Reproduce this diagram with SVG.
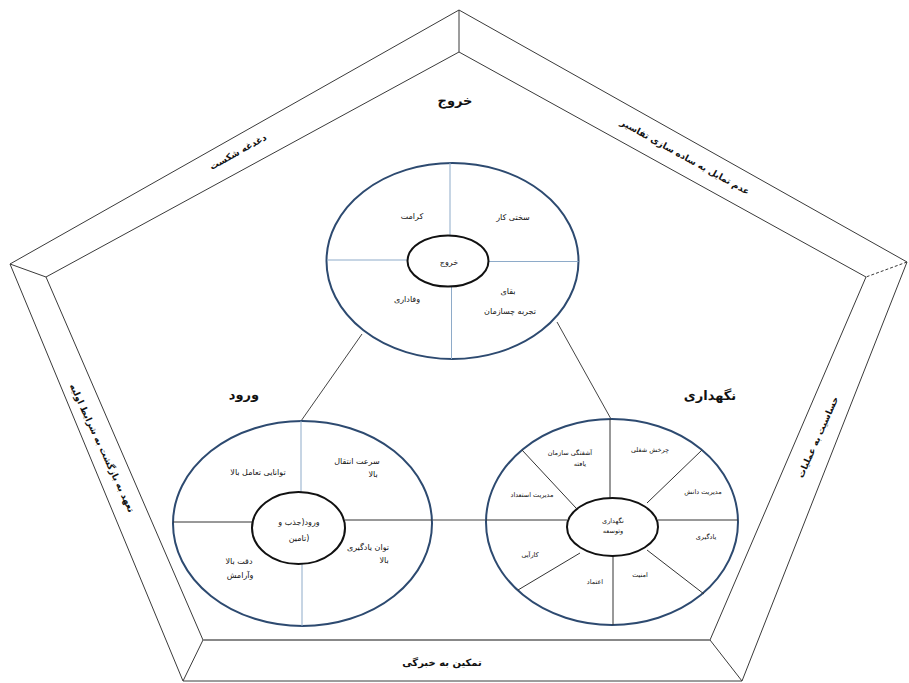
<svg xmlns="http://www.w3.org/2000/svg" width="909" height="683" viewBox="0 0 909 683">
<style>
.pl{fill:none;stroke:#3a3a3a;stroke-width:1}
.oe{fill:#fff;stroke:#2d4a70;stroke-width:2}
.ie{fill:#fff;stroke:#111;stroke-width:2}
.dl{stroke:#8eabc9;stroke-width:1}
.dk{stroke:#333;stroke-width:1}
.cn{stroke:#444;stroke-width:1;fill:none}
text{font-family:"DejaVu Sans",sans-serif;fill:#111;text-anchor:middle}
.t{font-size:8px}
.s{font-size:6.5px}
.h{font-size:13px;font-weight:bold}
.e{font-size:9px;font-weight:bold}
</style>
<rect width="909" height="683" fill="#fff"/>
<g id="frame">
<polygon class="pl" points="459,10 907,262 742,681 183,681 10,264"/>
<polygon class="pl" points="459,52 866,277 710,640 203,640 46,277"/>
<line class="pl" x1="459" y1="10" x2="459" y2="52"/>
<line class="pl" x1="907" y1="262" x2="866" y2="277" stroke-dasharray="3,2"/>
<line class="pl" x1="742" y1="681" x2="710" y2="640"/>
<line class="pl" x1="183" y1="681" x2="203" y2="640"/>
<line class="pl" x1="10" y1="264" x2="46" y2="277"/>
<line x1="203" y1="640" x2="710" y2="640" stroke="#888" stroke-width="2"/>
<text class="e" transform="translate(238,152) rotate(-29)" y="3">دغدغه شکست</text>
<text class="e" transform="translate(685,157) rotate(29)" y="3">عدم تمایل به ساده سازی تفاسیر</text>
<text class="e" transform="translate(102,448) rotate(65)" y="3">تعهد به بازگشت به شرایط اولیه</text>
<text class="e" transform="translate(818,437) rotate(-66)" y="3">حساسیت به عملیات</text>
<text class="e" x="442" y="666" style="font-size:10px">تمکین به خبرگی</text>
</g>
<g id="connectors">
<line class="cn" x1="362" y1="334" x2="301" y2="421"/>
<line class="cn" x1="557" y1="322" x2="611" y2="419"/>
<line class="cn" x1="432" y1="520" x2="486" y2="520"/>
</g>
<g id="exit">
<text class="h" x="455" y="105">خروج</text>
<ellipse class="oe" cx="452.5" cy="261" rx="126" ry="98"/>
<line class="dl" x1="450" y1="163" x2="450" y2="236"/>
<line class="dl" x1="451.5" y1="286" x2="451.5" y2="359"/>
<line class="dl" x1="327" y1="260" x2="408" y2="260"/>
<line class="dl" x1="488" y1="261.5" x2="578.5" y2="261.5"/>
<ellipse class="ie" cx="448" cy="261" rx="40.5" ry="25.5"/>
<text class="t" x="449" y="265">خروج</text>
<text class="t" x="412" y="219">کرامت</text>
<text class="t" x="513" y="220">سختی کار</text>
<text class="t" x="407" y="302">وفاداری</text>
<text class="t" x="508" y="294">بقای</text>
<text class="t" x="510" y="314">تجربه چسازمان</text>
</g>
<g id="entry">
<text class="h" x="244" y="399">ورود</text>
<ellipse class="oe" cx="302.5" cy="523.5" rx="129.5" ry="102.5"/>
<line class="dl" x1="301" y1="421" x2="301" y2="492"/>
<line class="dl" x1="302" y1="564" x2="302" y2="626"/>
<line class="dk" x1="173" y1="522" x2="252" y2="522"/>
<line class="dk" x1="345" y1="520" x2="432" y2="520"/>
<ellipse class="ie" cx="298.5" cy="528" rx="46.5" ry="36"/>
<text class="t" x="299" y="525">ورود(جذب و</text>
<text class="t" x="299" y="541">تامین)</text>
<text class="t" x="357" y="464">سرعت انتقال</text>
<text class="t" x="373" y="477">بالا</text>
<text class="t" x="258" y="475">توانایی تعامل بالا</text>
<text class="t" x="368" y="550">توان یادگیری</text>
<text class="t" x="384" y="563">بالا</text>
<text class="t" x="239" y="564">دقت بالا</text>
<text class="t" x="240" y="578">وآرامش</text>
</g>
<g id="retention">
<text class="h" x="710" y="400">نگهداری</text>
<ellipse class="oe" cx="612" cy="522" rx="126" ry="103"/>
<line class="dk" x1="610" y1="419" x2="610" y2="498"/>
<line class="dk" x1="613" y1="556" x2="613" y2="625"/>
<line class="dk" x1="486" y1="520" x2="567" y2="520"/>
<line class="dk" x1="658" y1="520" x2="738" y2="520"/>
<line class="dk" x1="522" y1="450" x2="576" y2="508"/>
<line class="dk" x1="702" y1="450" x2="647" y2="503"/>
<line class="dk" x1="580" y1="553" x2="518" y2="590"/>
<line class="dk" x1="647" y1="550" x2="704" y2="594"/>
<ellipse class="ie" cx="612.5" cy="527" rx="45.5" ry="29"/>
<text class="s" x="613" y="523">نگهداری</text>
<text class="s" x="613" y="533">وتوسعه</text>
<text class="s" x="570" y="455">آشفتگی سازمان</text>
<text class="s" x="580" y="466">یافته</text>
<text class="s" x="650" y="452">چرخش شغلی</text>
<text class="s" x="703" y="494">مدیریت دانش</text>
<text class="s" x="532" y="497">مدیریت استعداد</text>
<text class="s" x="706" y="539">یادگیری</text>
<text class="s" x="530" y="557">کارآیی</text>
<text class="s" x="595" y="584">اعتماد</text>
<text class="s" x="640" y="577">امنیت</text>
</g>
</svg>
